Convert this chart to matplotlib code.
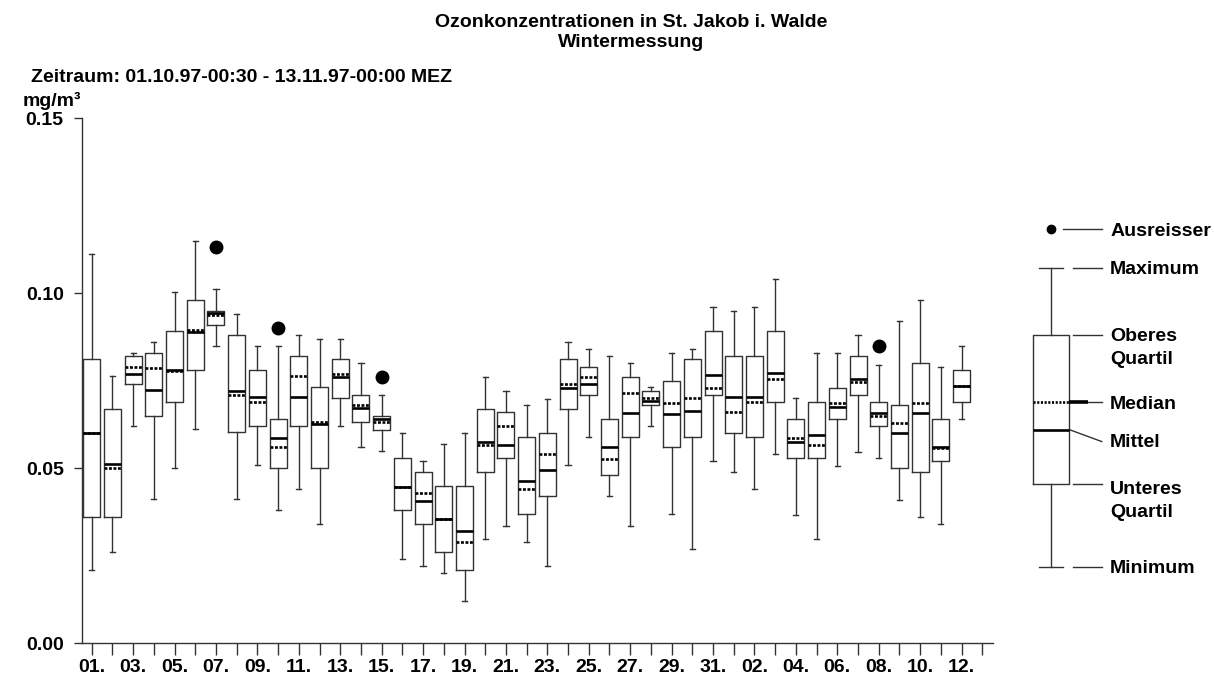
import matplotlib
matplotlib.use("Agg")
import matplotlib.pyplot as plt

plt.rcParams['font.family'] = ['Liberation Sans', 'DejaVu Sans']
plt.rcParams['font.weight'] = 'bold'
plt.rcParams['font.size'] = 14

# Tageswerte Ozon (mg/m³), 01.10.97 - 12.11.97
tage = [f"{d:02d}." for d in range(1, 32)] + [f"{d:02d}." for d in range(1, 14)]

minimum = [0.0209, 0.0260, 0.0621, 0.0411, 0.0500, 0.0611, 0.0850, 0.0411, 0.0509, 0.0381,
           0.0441, 0.0340, 0.0621, 0.0560, 0.0550, 0.0241, 0.0221, 0.0200, 0.0120, 0.0299,
           0.0335, 0.0289, 0.0221, 0.0509, 0.0590, 0.0420, 0.0335, 0.0621, 0.0369, 0.0269,
           0.0520, 0.0490, 0.0441, 0.0540, 0.0366, 0.0299, 0.0506, 0.0546, 0.0530, 0.0410,
           0.0361, 0.0340, 0.0640]
unteres_q = [0.0361, 0.0361, 0.0740, 0.0650, 0.0690, 0.0781, 0.0910, 0.0602, 0.0621, 0.0500,
             0.0621, 0.0500, 0.0700, 0.0631, 0.0610, 0.0381, 0.0340, 0.0260, 0.0210, 0.0490,
             0.0530, 0.0369, 0.0420, 0.0669, 0.0710, 0.0480, 0.0590, 0.0680, 0.0560, 0.0590,
             0.0710, 0.0600, 0.0590, 0.0690, 0.0530, 0.0530, 0.0640, 0.0710, 0.0620, 0.0500,
             0.0490, 0.0520, 0.0690]
median = [0.0600, 0.0500, 0.0790, 0.0787, 0.0778, 0.0895, 0.0938, 0.0710, 0.0690, 0.0560,
          0.0762, 0.0631, 0.0770, 0.0681, 0.0631, 0.0446, 0.0430, 0.0354, 0.0289, 0.0565,
          0.0620, 0.0440, 0.0540, 0.0740, 0.0761, 0.0525, 0.0715, 0.0700, 0.0685, 0.0700,
          0.0730, 0.0660, 0.0690, 0.0756, 0.0585, 0.0565, 0.0686, 0.0745, 0.0650, 0.0630,
          0.0686, 0.0558, 0.0735]
mittel = [0.0600, 0.0512, 0.0770, 0.0724, 0.0779, 0.0889, 0.0942, 0.0721, 0.0702, 0.0585,
          0.0702, 0.0627, 0.0761, 0.0671, 0.0640, 0.0446, 0.0407, 0.0354, 0.0321, 0.0575,
          0.0567, 0.0463, 0.0494, 0.0730, 0.0741, 0.0560, 0.0658, 0.0693, 0.0655, 0.0664,
          0.0766, 0.0703, 0.0702, 0.0771, 0.0576, 0.0595, 0.0676, 0.0754, 0.0659, 0.0600,
          0.0657, 0.0561, 0.0735]
oberes_q = [0.0811, 0.0669, 0.0821, 0.0830, 0.0891, 0.0981, 0.0950, 0.0880, 0.0781, 0.0640,
            0.0821, 0.0731, 0.0811, 0.0709, 0.0650, 0.0530, 0.0490, 0.0450, 0.0450, 0.0669,
            0.0660, 0.0590, 0.0600, 0.0811, 0.0790, 0.0640, 0.0761, 0.0720, 0.0750, 0.0811,
            0.0891, 0.0821, 0.0821, 0.0891, 0.0640, 0.0690, 0.0730, 0.0821, 0.0690, 0.0680,
            0.0800, 0.0640, 0.0781]
maximum = [0.1111, 0.0762, 0.0830, 0.0860, 0.1002, 0.1150, 0.1011, 0.0941, 0.0850, 0.0850,
           0.0880, 0.0870, 0.0870, 0.0801, 0.0710, 0.0600, 0.0520, 0.0570, 0.0600, 0.0761,
           0.0720, 0.0680, 0.0699, 0.0860, 0.0841, 0.0821, 0.0801, 0.0731, 0.0830, 0.0841,
           0.0961, 0.0950, 0.0961, 0.1040, 0.0700, 0.0830, 0.0830, 0.0880, 0.0795, 0.0921,
           0.0981, 0.0790, 0.0850]
ausreisser = {6: [0.1131], 9: [0.0901], 14: [0.0761], 38: [0.0850]}

# Schema für die Legende
legende = dict(whislo=0.0219, q1=0.0454, med=0.0689, mean=0.0609, q3=0.0881,
               whishi=0.1073, fliers=[0.1183])

stats = []
for i in range(len(median)):
    stats.append(dict(whislo=minimum[i], q1=unteres_q[i], med=median[i], mean=mittel[i],
                      q3=oberes_q[i], whishi=maximum[i], fliers=ausreisser.get(i, [])))

linie = '#333333'
boxprops = dict(color=linie, linewidth=1.0)
whiskerprops = dict(color=linie, linewidth=1.0)
capprops = dict(color=linie, linewidth=1.0)
medianprops = dict(color='black', linewidth=1.9, linestyle=(0, (1.1, 0.6)))
meanprops = dict(color='black', linewidth=1.9, linestyle='-')

fig = plt.figure(figsize=(12.14, 6.79), dpi=100)
ax = fig.add_axes([0.0673, 0.0526, 0.7507, 0.7736])

ax.bxp(stats, positions=range(len(stats)), widths=0.82, capwidths=0.25,
       showmeans=True, meanline=True, patch_artist=False,
       boxprops=boxprops, whiskerprops=whiskerprops, capprops=capprops,
       medianprops=medianprops, meanprops=meanprops,
       flierprops=dict(marker='o', markerfacecolor='black', markeredgecolor='black',
                       markersize=9, linestyle='none'),
       manage_ticks=False)

ax.set_xlim(-0.483, 43.52)
ax.set_ylim(0, 0.15)
ax.set_yticks([0.0, 0.05, 0.10, 0.15])
ax.set_yticklabels(['0.00', '0.05', '0.10', '0.15'])
ax.set_xticks(range(len(tage)))
ax.set_xticklabels([t if i % 2 == 0 else '' for i, t in enumerate(tage)])
ax.tick_params(axis='y', length=6, width=1, color=linie, pad=7)
ax.tick_params(axis='x', length=8.4, width=1, color=linie, pad=3)
for s in ['top', 'right']:
    ax.spines[s].set_visible(False)
for s in ['left', 'bottom']:
    ax.spines[s].set_color(linie)
    ax.spines[s].set_linewidth(1.0)

# Legende rechts neben dem Diagramm
kx = 46.32
kw = 1.77
art = ax.bxp([legende], positions=[kx], widths=kw, capwidths=1.14,
             showmeans=True, meanline=True,
             boxprops=boxprops, whiskerprops=whiskerprops, capprops=capprops,
             medianprops=dict(color='black', linewidth=1.9, linestyle=(0, (0.8, 0.6))),
             meanprops=meanprops,
             flierprops=dict(marker='o', markerfacecolor='black', markeredgecolor='black',
                             markersize=6, linestyle='none'),
             manage_ticks=False)
for teile in art.values():
    for a in teile:
        a.set_clip_on(False)

x0 = kx + kw / 2 + 0.18
x1 = kx + 2.45
xt = kx + 2.85
dy = 23 / 3500
kw_l = dict(color=linie, linewidth=1.0, clip_on=False)
ax.plot([kx + 0.58, x1], [legende['fliers'][0]] * 2, **kw_l)
ax.plot([x0, x1], [legende['whishi']] * 2, **kw_l)
ax.plot([x0, x1], [legende['q3']] * 2, **kw_l)
ax.plot([kx + kw / 2, kx + 1.79], [legende['med']] * 2, color='black', linewidth=2.6,
        solid_capstyle='butt', clip_on=False)
ax.plot([kx + 1.79, x1], [legende['med']] * 2, **kw_l)
ax.plot([kx + kw / 2 + 0.05, x1], [legende['mean'], legende['mean'] - 0.0033], **kw_l)
ax.plot([x0, x1], [legende['q1']] * 2, **kw_l)
ax.plot([x0, x1], [legende['whislo']] * 2, **kw_l)

beschriftung = [
    ('Ausreisser', legende['fliers'][0]),
    ('Maximum', legende['whishi']),
    ('Oberes', legende['q3']),
    ('Quartil', legende['q3'] - dy),
    ('Median', legende['med']),
    ('Mittel', legende['mean'] - 0.0030),
    ('Unteres', legende['q1'] - 0.0008),
    ('Quartil', legende['q1'] - 0.0008 - dy),
    ('Minimum', legende['whislo']),
]
for txt, yv in beschriftung:
    ax.text(xt, yv, txt, ha='left', va='center_baseline', clip_on=False)

fig.text(631 / 1214, 1 - 26.7 / 679, 'Ozonkonzentrationen in St. Jakob i. Walde',
         ha='center', va='baseline')
fig.text(631 / 1214, 1 - 46.7 / 679, 'Wintermessung', ha='center', va='baseline')
fig.text(31 / 1214, 1 - 81.7 / 679, 'Zeitraum: 01.10.97-00:30 - 13.11.97-00:00 MEZ',
         ha='left', va='baseline')
fig.text(23 / 1214, 1 - 106.5 / 679, 'mg/m³', ha='left', va='baseline')

fig.savefig('out.png', dpi=100)
